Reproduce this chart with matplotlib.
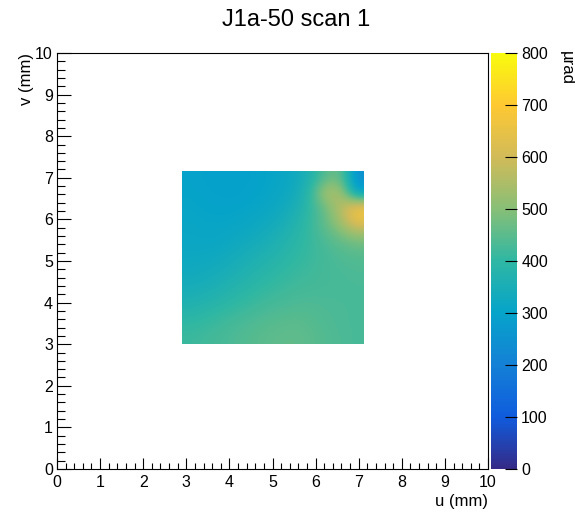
import numpy as np
import matplotlib
matplotlib.use("Agg")
import matplotlib.pyplot as plt
from matplotlib.colors import LinearSegmentedColormap
from matplotlib.ticker import MultipleLocator

plt.rcParams['font.family'] = ['Liberation Sans', 'DejaVu Sans']

title = "J1a-50 scan 1"
xlabel = "u (mm)"
ylabel = "v (mm)"
zlabel = "µrad"
zmin, zmax = 0, 800
cbar_ticks = [0, 100, 200, 300, 400, 500, 600, 700, 800]

# measured region (mm)
u_range = [2.9, 7.12]
v_range = [3.0, 7.15]

# deflection values (µrad), rows from top (v high) to bottom, columns left to right
row_v698 = [300, 296, 294, 294, 296, 302, 310, 325, 370, 450, 470, 240]
row_v663 = [302, 298, 295, 295, 298, 304, 315, 335, 400, 560, 540, 290]
row_v628 = [306, 302, 299, 300, 304, 312, 325, 352, 405, 470, 570, 670]
row_v594 = [310, 306, 305, 308, 315, 325, 342, 372, 412, 462, 540, 650]
row_v559 = [313, 310, 312, 318, 328, 342, 362, 387, 412, 442, 472, 505]
row_v525 = [318, 318, 322, 333, 346, 361, 377, 397, 412, 427, 442, 452]
row_v490 = [325, 328, 336, 349, 363, 379, 393, 407, 417, 427, 432, 437]
row_v455 = [336, 341, 352, 366, 381, 396, 407, 417, 422, 427, 430, 432]
row_v421 = [352, 360, 372, 387, 400, 412, 420, 427, 430, 430, 430, 430]
row_v386 = [375, 384, 396, 408, 418, 428, 433, 438, 438, 434, 432, 430]
row_v352 = [400, 408, 418, 428, 435, 443, 448, 452, 445, 437, 432, 430]
row_v317 = [415, 421, 428, 435, 443, 451, 456, 458, 450, 440, 434, 430]

Z = np.array([row_v698, row_v663, row_v628, row_v594, row_v559, row_v525,
              row_v490, row_v455, row_v421, row_v386, row_v352, row_v317], float)

# ROOT kBird palette
stops = [0.0, 0.125, 0.25, 0.375, 0.5, 0.625, 0.75, 0.875, 1.0]
red = [0.2082, 0.0592, 0.0780, 0.0232, 0.1802, 0.5301, 0.8186, 0.9956, 0.9764]
green = [0.1664, 0.3599, 0.5041, 0.6419, 0.7178, 0.7492, 0.7328, 0.7862, 0.9832]
blue = [0.5293, 0.8684, 0.8385, 0.7914, 0.6425, 0.4662, 0.3499, 0.1968, 0.0539]
cmap = LinearSegmentedColormap.from_list(
    "bird", [(s, (r, g, b)) for s, r, g, b in zip(stops, red, green, blue)], N=256)

W, H = 575, 522
fig = plt.figure(figsize=(W / 100, H / 100), dpi=100)

ax = fig.add_axes([57 / W, (H - 469) / H, (488 - 57) / W, (469 - 53) / H])
im = ax.imshow(Z, cmap=cmap, vmin=zmin, vmax=zmax, origin='upper',
               extent=[u_range[0], u_range[1], v_range[0], v_range[1]],
               interpolation='bicubic', aspect='auto')
ax.set_xlim(0, 10)
ax.set_ylim(0, 10)
ax.xaxis.set_major_locator(MultipleLocator(1))
ax.xaxis.set_minor_locator(MultipleLocator(0.2))
ax.yaxis.set_major_locator(MultipleLocator(1))
ax.yaxis.set_minor_locator(MultipleLocator(0.2))
ax.tick_params(axis='x', which='major', direction='in', length=8, width=0.8,
               labelsize=11.5, pad=4)
ax.tick_params(axis='x', which='minor', direction='in', length=4.3, width=0.8)
ax.tick_params(axis='y', which='major', direction='in', length=10, width=0.8,
               labelsize=11.5, pad=3)
ax.tick_params(axis='y', which='minor', direction='in', length=5.8, width=0.8)
for sp in ax.spines.values():
    sp.set_linewidth(0.8)
ax.set_xlabel(xlabel, fontsize=12, loc='right', labelpad=3)
ax.set_ylabel(ylabel, fontsize=12, loc='top', labelpad=1)

cax = fig.add_axes([491 / W, (H - 469) / H, 26 / W, (469 - 53) / H])
cb = fig.colorbar(im, cax=cax, ticks=cbar_ticks)
cb.outline.set_visible(False)
cax.tick_params(direction='in', length=9, width=0.8, labelsize=11.5, pad=3)
cax.minorticks_off()
fig.text(566 / W, 1 - 51 / H, zlabel, rotation=-90, ha='center', va='top', fontsize=12)

fig.text(296 / W, 1 - 20 / H, title, ha='center', va='center', fontsize=17)

fig.savefig("out.png", dpi=100)
